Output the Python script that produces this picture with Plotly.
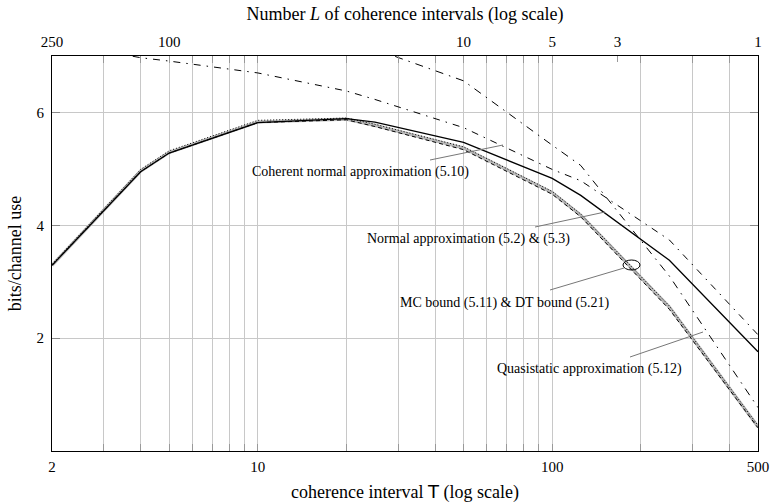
import math
import plotly.graph_objects as go

# ---------------- data ----------------
T = [2, 4, 5, 10, 20, 25, 50, 100, 125, 250, 500]
solid_curve = [3.29, 4.95, 5.28, 5.82, 5.89, 5.83, 5.47, 4.83, 4.53, 3.38, 1.76]
mc_bound = [3.29, 4.96, 5.29, 5.83, 5.88, 5.77, 5.37, 4.58, 4.18, 2.55, 0.43]
dt_bound = [3.31, 4.99, 5.32, 5.86, 5.90, 5.79, 5.39, 4.60, 4.20, 2.57, 0.45]
normal_approx = [3.29, 4.95, 5.28, 5.82, 5.87, 5.75, 5.34, 4.55, 4.15, 2.51, 0.41]
coherent_normal = [7.25, 6.97, 6.91, 6.70, 6.38, 6.23, 5.73, 4.99, 4.79, 3.74, 2.06]
T_quasi = [25, 50, 100, 125, 250, 500]
quasistatic = [7.12, 6.56, 5.42, 5.06, 3.10, 0.77]

grid_T = [2, 3, 4, 5, 6, 7, 8, 9, 10, 20, 30, 40, 50, 60, 70, 80, 90, 100, 200, 300, 400, 500]
x_labels = {2: "2", 10: "10", 100: "100", 500: "500"}
L_labels = [250, 100, 10, 5, 3, 1]
T_total = 500
y_ticks = [2, 4, 6]

# ---------------- layout geometry ----------------
PLOT_L, PLOT_R, PLOT_T, PLOT_B = 52, 758, 56, 451
W, H = 773, 504
L_M, T_M = PLOT_L, PLOT_T
R_M, B_M = W - PLOT_R, H - PLOT_B
PW, PH = PLOT_R - PLOT_L, PLOT_B - PLOT_T


def px(xp):
    return (xp - PLOT_L) / PW


def py(yp):
    return (PLOT_B - yp) / PH


FONT = "Liberation Serif"
GRID = "#c8c8c8"

fig = go.Figure()

fig.add_trace(go.Scatter(x=T, y=mc_bound, mode="lines", name="MC bound (5.11)",
                         line=dict(color="#b8b8b8", width=3.2)))
fig.add_trace(go.Scatter(x=T, y=normal_approx, mode="lines", name="Normal approximation",
                         line=dict(color="black", width=1, dash="4px,3px")))
fig.add_trace(go.Scatter(x=T, y=dt_bound, mode="lines", name="DT bound (5.21)",
                         line=dict(color="black", width=1, dash="1px,2px")))
fig.add_trace(go.Scatter(x=T, y=solid_curve, mode="lines", name="solid",
                         line=dict(color="black", width=1.3)))
fig.add_trace(go.Scatter(x=T, y=coherent_normal, mode="lines", name="Coherent normal approximation (5.10)",
                         line=dict(color="black", width=1, dash="7px,6px,1.5px,6px")))
fig.add_trace(go.Scatter(x=T_quasi, y=quasistatic, mode="lines", name="Quasistatic approximation (5.12)",
                         line=dict(color="black", width=1, dash="8px,6px,1.5px,6px")))
# invisible trace to activate the top axis
fig.add_trace(go.Scatter(x=[T[0], T[-1]], y=[None, None], xaxis="x2", mode="lines",
                         showlegend=False, hoverinfo="skip"))

xrange = [math.log10(T[0]), math.log10(T[-1])]

fig.update_layout(
    width=W, height=H,
    margin=dict(l=L_M, r=R_M, t=T_M, b=B_M, autoexpand=False),
    paper_bgcolor="white", plot_bgcolor="white",
    showlegend=False,
    font=dict(family=FONT, size=15, color="black"),
    xaxis=dict(
        type="log", range=xrange, automargin=False,
        tickvals=grid_T, ticktext=[x_labels.get(v, "") for v in grid_T],
        showgrid=True, gridcolor=GRID, gridwidth=1,
        ticks="inside", ticklen=7, tickcolor="#999999", tickwidth=1,
        showline=True, linecolor="black", linewidth=1.2, mirror="ticks",
        tickfont=dict(family=FONT, size=15), ticklabelstandoff=2,
        ticklabeloverflow="allow",
        title=dict(text="coherence interval <span style='font-family:DejaVu Sans'>T</span> (log scale)",
                   font=dict(family=FONT, size=18), standoff=11),
        zeroline=False,
    ),
    xaxis2=dict(
        type="log", range=xrange, overlaying="x", side="top", automargin=False,
        tickvals=[T_total / v for v in L_labels], ticktext=[str(v) for v in L_labels],
        showgrid=False, ticks="inside", ticklen=6, tickcolor="#999999",
        tickfont=dict(family=FONT, size=15), ticklabelstandoff=5,
        ticklabeloverflow="allow",
        title=dict(text="Number <i>L</i> of coherence intervals (log scale)",
                   font=dict(family=FONT, size=18), standoff=8),
        showline=False, zeroline=False,
    ),
    yaxis=dict(
        range=[0, 7], tickvals=y_ticks, ticktext=[str(v) for v in y_ticks],
        automargin=False,
        showgrid=True, gridcolor=GRID, gridwidth=1,
        ticks="inside", ticklen=8, tickcolor="#888888",
        showline=True, linecolor="black", linewidth=1.2, mirror="ticks",
        tickfont=dict(family=FONT, size=15), ticklabelstandoff=4,
        title=dict(text="bits/channel use", font=dict(family=FONT, size=18), standoff=10),
        zeroline=False,
    ),
)

# ---------------- labels with pointer lines ----------------
labels = [
    ("Coherent normal approximation (5.10)", 360, 172, (430, 160, 503, 145)),
    ("Normal approximation (5.2) &amp; (5.3)", 468, 239, (535, 227, 605, 212)),
    ("MC bound (5.11) &amp; DT bound (5.21)", 505, 303, (550, 290, 624, 268)),
    ("Quasistatic approximation (5.12)", 589, 369, (630, 357, 703, 332)),
]
for text, cx, cy, (x0, y0, x1, y1) in labels:
    fig.add_annotation(text=text, x=px(cx), y=py(cy), xref="paper", yref="paper",
                       showarrow=False, font=dict(family=FONT, size=14),
                       xanchor="center", yanchor="middle")
    fig.add_shape(type="line", xref="paper", yref="paper",
                  x0=px(x0), y0=py(y0), x1=px(x1), y1=py(y1),
                  line=dict(color="#777777", width=1))

fig.add_shape(type="circle", xref="paper", yref="paper",
              x0=px(623), x1=px(640), y0=py(270), y1=py(260),
              line=dict(color="black", width=1))

fig.write_html("out.html", config={"displayModeBar": False},
               post_script="document.body.style.margin='0';document.body.style.overflow='hidden';")
